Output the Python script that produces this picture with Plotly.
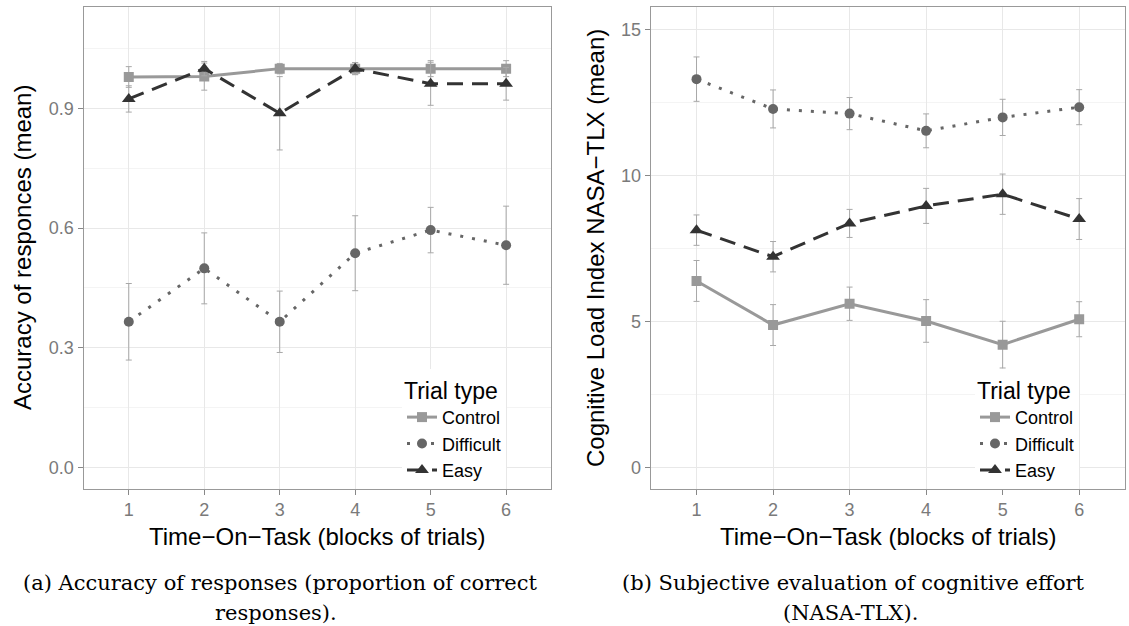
import plotly.graph_objects as go

# ---------------- data ----------------
blocks = [1, 2, 3, 4, 5, 6]
x_tick_labels = ["1", "2", "3", "4", "5", "6"]
trial_types = ["Control", "Difficult", "Easy"]

# (a) accuracy of responses (mean) and error half-widths
acc_control = [0.979, 0.980, 1.000, 1.000, 1.000, 1.000]
acc_control_err = [0.026, 0.034, 0.013, 0.015, 0.020, 0.020]
acc_difficult = [0.365, 0.499, 0.365, 0.537, 0.595, 0.557]
acc_difficult_err = [0.096, 0.089, 0.077, 0.094, 0.057, 0.098]
acc_easy = [0.924, 1.000, 0.888, 1.000, 0.962, 0.962]
acc_easy_err = [0.033, 0.018, 0.092, 0.015, 0.054, 0.041]
acc_ticks = [0.0, 0.3, 0.6, 0.9]

# (b) NASA-TLX (mean) and error half-widths
tlx_control = [6.38, 4.87, 5.60, 5.01, 4.20, 5.07]
tlx_control_err = [0.70, 0.70, 0.57, 0.73, 0.80, 0.60]
tlx_difficult = [13.29, 12.27, 12.11, 11.52, 11.98, 12.33]
tlx_difficult_err = [0.76, 0.65, 0.55, 0.58, 0.62, 0.60]
tlx_easy = [8.12, 7.21, 8.35, 8.95, 9.35, 8.50]
tlx_easy_err = [0.52, 0.52, 0.48, 0.60, 0.69, 0.70]
tlx_ticks = [0, 5, 10, 15]

# ---------------- styles ----------------
W, H = 1129, 626
styles = {
    "Control": dict(color="#999999", symbol="square", size=10, dash="solid"),
    "Difficult": dict(color="#666666", symbol="circle", size=10, dash="3px,9px"),
    "Easy": dict(color="#333333", symbol="triangle-up", size=12, dash="16px,9px"),
}
SANS = "Liberation Sans, Arial, Helvetica, sans-serif"
SERIF = "DejaVu Serif, serif"

def px_x(v):
    return v / W

def px_y(v):
    return 1 - v / H

fig = go.Figure()

panels = [
    ("x", "y", "legend", [acc_control, acc_difficult, acc_easy],
     [acc_control_err, acc_difficult_err, acc_easy_err]),
    ("x2", "y2", "legend2", [tlx_control, tlx_difficult, tlx_easy],
     [tlx_control_err, tlx_difficult_err, tlx_easy_err]),
]
for xa, ya, leg, series, errs in panels:
    for name, vals, err in zip(trial_types, series, errs):
        s = styles[name]
        fig.add_trace(go.Scatter(
            x=blocks, y=vals, name=name, xaxis=xa, yaxis=ya, legend=leg,
            mode="lines+markers",
            line=dict(color=s["color"], width=3, dash=s["dash"]),
            marker=dict(color=s["color"], symbol=s["symbol"], size=s["size"],
                        line=dict(width=0)),
            error_y=dict(type="data", array=err, visible=True,
                         color="#a8a8a8", thickness=1, width=3),
        ))

top_px, bot_px = 7, 488.5
ydom = [px_y(bot_px), px_y(top_px)]

axis_common = dict(
    showline=True, linecolor="#999999", linewidth=1, mirror=True,
    showgrid=True, gridcolor="#e8e8e8", gridwidth=1,
    ticks="outside", ticklen=5, tickcolor="#888888", tickwidth=1,
    tickfont=dict(family=SANS, size=18, color="#7a7a7a"),
    zeroline=False,
)

legend_common = dict(
    xanchor="left", yanchor="top",
    bgcolor="white", borderwidth=0,
    title=dict(text="Trial type", font=dict(family=SANS, size=23, color="black")),
    font=dict(family=SANS, size=18, color="black"),
    itemwidth=30, tracegroupgap=0,
)

fig.update_layout(
    width=W, height=H,
    margin=dict(l=0, r=0, t=0, b=0),
    paper_bgcolor="white", plot_bgcolor="white",
    xaxis=dict(domain=[px_x(83.5), px_x(551.4)], range=[0.4, 6.6], anchor="y",
               tickvals=blocks, ticktext=x_tick_labels, **axis_common),
    yaxis=dict(domain=ydom, range=[-0.0532, 1.1546], anchor="x",
               tickvals=acc_ticks, ticktext=[f"{t:.1f}" for t in acc_ticks],
               minor=dict(dtick=0.15, tick0=0, showgrid=True, gridcolor="#f4f4f4", ticks=""),
               **axis_common),
    xaxis2=dict(domain=[px_x(650.6), px_x(1125.1)], range=[0.4, 6.6], anchor="y2",
                tickvals=blocks, ticktext=x_tick_labels, **axis_common),
    yaxis2=dict(domain=ydom, range=[-0.726, 15.76], anchor="x2",
                tickvals=tlx_ticks, ticktext=[str(t) for t in tlx_ticks],
                minor=dict(dtick=2.5, tick0=0, showgrid=True, gridcolor="#f4f4f4", ticks=""),
                **axis_common),
    legend=dict(x=px_x(402), y=px_y(369), **legend_common),
    legend2=dict(x=px_x(975), y=px_y(369), **legend_common),
    showlegend=True,
)

annots = [
    # axis titles
    dict(text="Time\u2212On\u2212Task (blocks of trials)", x=px_x(317.5), y=px_y(536),
         font=dict(family=SANS, size=24, color="black")),
    dict(text="Time\u2212On\u2212Task (blocks of trials)", x=px_x(888), y=px_y(536),
         font=dict(family=SANS, size=24, color="black")),
    dict(text="Accuracy of responces (mean)", x=px_x(22), y=px_y(248), textangle=-90,
         font=dict(family=SANS, size=24, color="black")),
    dict(text="Cognitive Load Index NASA\u2212TLX (mean)", x=px_x(595), y=px_y(248),
         textangle=-90, font=dict(family=SANS, size=24, color="black")),
    # captions
    dict(text="(a) Accuracy of responses (proportion of correct", x=px_x(280), y=px_y(583),
         font=dict(family=SERIF, size=21, color="black")),
    dict(text="responses).", x=px_x(276), y=px_y(613),
         font=dict(family=SERIF, size=21, color="black")),
    dict(text="(b) Subjective evaluation of cognitive effort", x=px_x(853), y=px_y(583),
         font=dict(family=SERIF, size=21, color="black")),
    dict(text="(NASA-TLX).", x=px_x(850), y=px_y(613),
         font=dict(family=SERIF, size=21, color="black")),
]
for a in annots:
    fig.add_annotation(xref="paper", yref="paper", showarrow=False,
                       xanchor="center", yanchor="middle", **a)

fig.write_html(
    "out.html",
    config={"displayModeBar": False},
    post_script="document.body.style.margin='0px';document.body.style.overflow='hidden';",
)
